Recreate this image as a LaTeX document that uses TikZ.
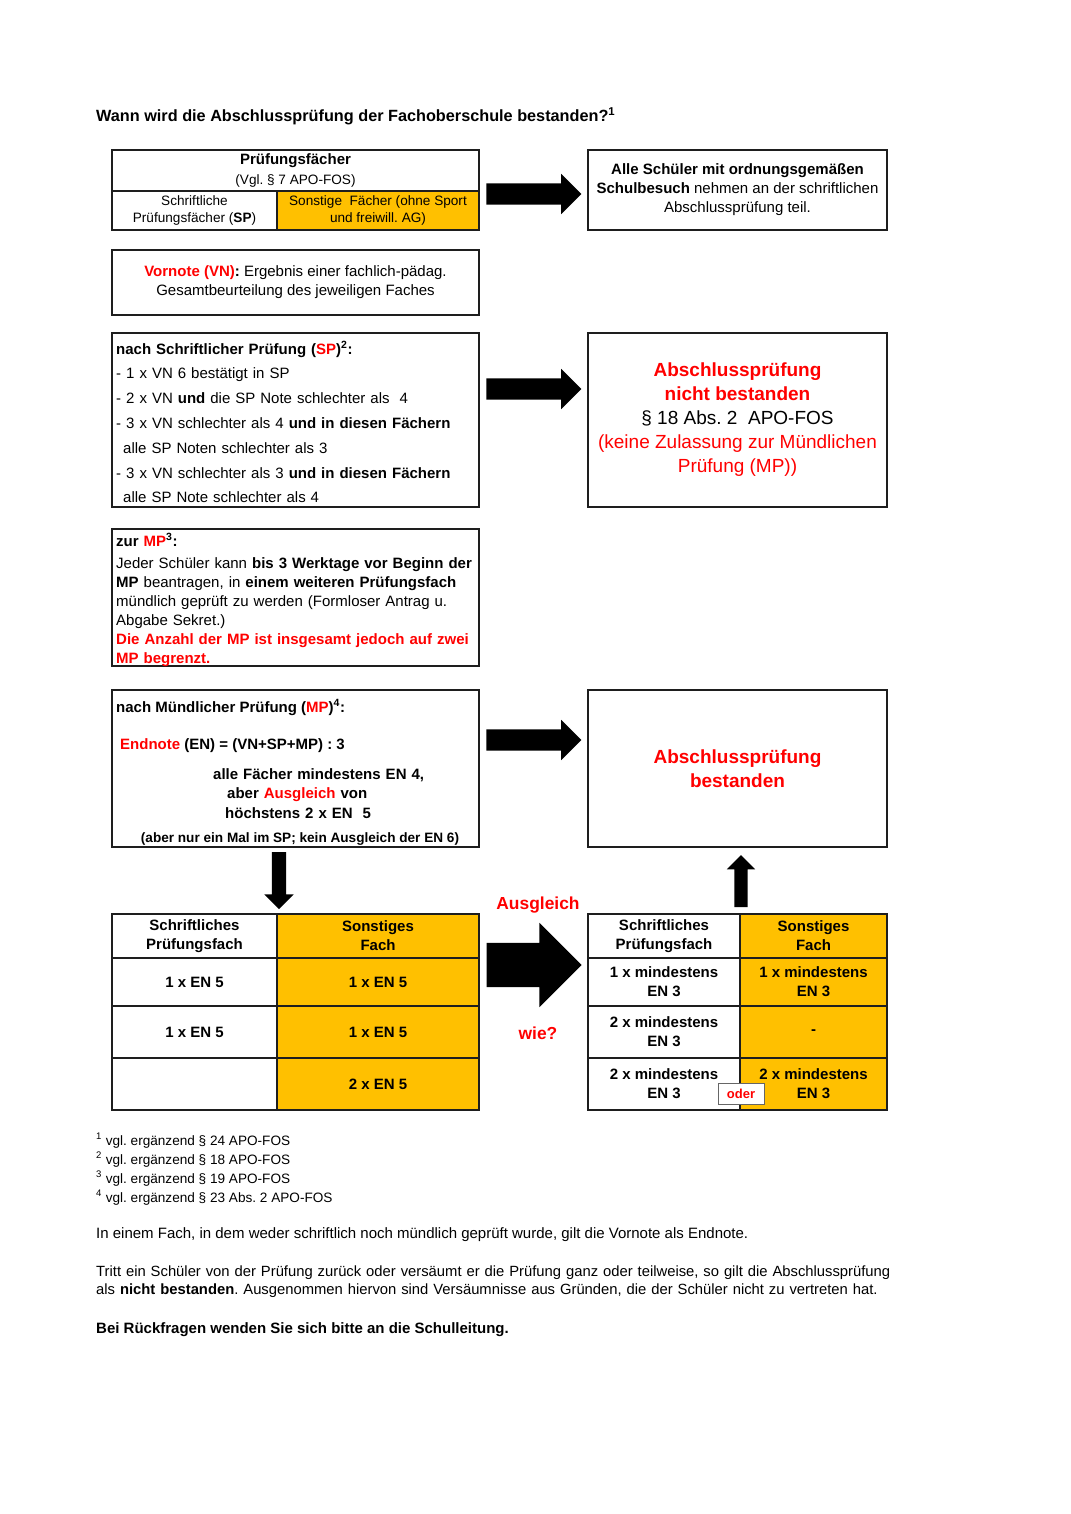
\documentclass[tikz,border=0pt]{standalone}
\usepackage{fontspec}
\setmainfont{Liberation Sans}
\usetikzlibrary{positioning,calc,shapes.arrows}

\definecolor{rot}{RGB}{255,0,0}
\definecolor{gelb}{RGB}{255,192,0}
\definecolor{rand}{RGB}{30,30,30}

\newcommand{\grund}{\fontsize{15}{19}\selectfont}
\newcommand{\klein}{\fontsize{13.6}{17}\selectfont}
\newcommand{\gross}{\fontsize{19}{24}\selectfont}
\newcommand{\rt}[1]{\textcolor{rot}{#1}}

\begin{document}
\frenchspacing
\begin{tikzpicture}[
  x=1pt, y=-1pt,
  font=\grund,
  box/.style    ={rectangle, draw=rand, line width=1.5pt, anchor=north west,
                  inner sep=4pt, outer sep=0pt, align=center},
  zelle/.style  ={rectangle, draw=rand, line width=1.1pt, anchor=north west,
                  inner sep=2pt, outer sep=0pt, align=center},
  tab/.style    ={zelle, font=\grund\bfseries},
  rahmen/.style ={draw=rand, line width=1.5pt},
  pfeil/.style  ={single arrow, fill=black, inner xsep=0pt, outer sep=0pt,
                  single arrow tip angle=90},
  fussnote/.style={anchor=base west, inner sep=0pt, font=\klein},
  absatz/.style ={anchor=base west, inner sep=0pt, align=left},
]
\useasboundingbox (0,0) rectangle (1070,1514);
\fill[white] (0,0) rectangle (1070,1514);

% -------- title -----------------------------------------------------------
\node[anchor=base west, inner sep=0pt, font=\fontsize{16.25}{20}\selectfont\bfseries]
  (titel) at (96,122) {Wann wird die Abschlussprüfung der Fachoberschule bestanden?\textsuperscript{1}};

% -------- Prüfungsfächer --------------------------------------------------
\node[zelle, minimum width=367pt, minimum height=41pt] (pfkopf) at (112,150)
  {\textbf{Prüfungsfächer}\\[1pt]{\klein (Vgl. § 7 APO-FOS)}};
\node[zelle, font=\klein, minimum width=165pt, minimum height=39pt] (pfsp) at (pfkopf.south west)
  {Schriftliche\\Prüfungsfächer (\textbf{SP})};
\node[zelle, font=\klein, fill=gelb, minimum width=202pt, minimum height=39pt] (pfso) at (pfsp.north east)
  {Sonstige\ \ Fächer (ohne Sport\\und freiwill. AG)};
\draw[rahmen] (pfkopf.north west) rectangle (pfso.south east);

\node[box, minimum width=299pt, minimum height=80pt] (alle) at (588,150)
  {\textbf{Alle Schüler mit ordnungsgemäßen}\\\textbf{Schulbesuch} nehmen an der schriftlichen\\Abschlussprüfung teil.};

% -------- Vornote ---------------------------------------------------------
\node[box, minimum width=367pt, minimum height=65pt] (vn) at (112,250)
  {\rt{\textbf{Vornote (VN)}}\textbf{:} Ergebnis einer fachlich-pädag.\\Gesamtbeurteilung des jeweiligen Faches};

% -------- schriftliche Prüfung --------------------------------------------
\node[box, minimum width=367pt, minimum height=174pt] (sp) at (112,333) {};
\node[absatz, text width=359pt, font=\fontsize{15}{24.8}\selectfont] (sptext) at ($(sp.north west)+(4,21)$)
  {\textbf{nach Schriftlicher Prüfung (\rt{SP})\textsuperscript{2}:}\\
   - 1 x VN 6 bestätigt in SP\\
   - 2 x VN \textbf{und} die SP Note schlechter als\ \ 4\\
   - 3 x VN schlechter als 4 \textbf{und in diesen Fächern}\\
   \hspace*{7pt}alle SP Noten schlechter als 3\\
   - 3 x VN schlechter als 3 \textbf{und in diesen Fächern}\\
   \hspace*{7pt}alle SP Note schlechter als 4};

\node[box, font=\gross, minimum width=299pt, minimum height=174pt] (nb) at (588,333)
  {\rt{\textbf{Abschlussprüfung}}\\\rt{\textbf{nicht bestanden}}\\§ 18 Abs. 2\ \ APO-FOS\\
   \rt{(keine Zulassung zur Mündlichen}\\\rt{Prüfung (MP))}};

% -------- zur MP ----------------------------------------------------------
\node[box, minimum width=367pt, minimum height=137pt] (mp) at (112,529) {};
\node[absatz, text width=359pt] (mptext) at ($(mp.north west)+(4,17)$)
  {\textbf{zur \rt{MP}\textsuperscript{3}:}\\[3pt]
   Jeder Schüler kann \textbf{bis 3 Werktage vor Beginn der}\\
   \textbf{MP} beantragen, in \textbf{einem weiteren Prüfungsfach}\\
   mündlich geprüft zu werden (Formloser Antrag u.\\
   Abgabe Sekret.)\\
   \rt{\textbf{Die Anzahl der MP ist insgesamt jedoch auf zwei}}\\
   \rt{\textbf{MP begrenzt.}}};

% -------- mündliche Prüfung -----------------------------------------------
\node[box, minimum width=367pt, minimum height=157pt] (mue) at (112,690) {};
\node[anchor=base west, inner sep=0pt, font=\grund\bfseries] (muekopf) at ($(mue.north west)+(4,22)$)
  {nach Mündlicher Prüfung (\rt{MP})\textsuperscript{4}:};
\node[anchor=base west, inner sep=0pt, font=\grund\bfseries] (endnote) at ($(mue.north west)+(8,59)$)
  {\rt{Endnote} (EN) = (VN+SP+MP) : 3};
\node[absatz, text width=250pt, font=\fontsize{15}{19.5}\selectfont\bfseries] (regel) at ($(mue.north west)+(101,89)$)
  {alle Fächer mindestens EN 4,\\
   \hspace*{14pt}aber \rt{Ausgleich} von\\
   \hspace*{12pt}höchstens 2 x EN\ \ 5};
\node[anchor=base, inner sep=0pt, font=\klein\bfseries] (einmal) at ($(mue.south)+(4.5,-5)$)
  {(aber nur ein Mal im SP; kein Ausgleich der EN 6)};

\node[box, font=\gross\bfseries, text=rot, minimum width=299pt, minimum height=157pt] (best) at (588,690)
  {Abschlussprüfung\\bestanden};

% -------- Ausgleich tables ------------------------------------------------
\foreach \z/\y/\h/\tl/\tr in {0/914/44/{Schriftliches\\Prüfungsfach}/{Sonstiges\\Fach},
                               1/958/48/{1 x EN 5}/{1 x EN 5},
                               2/1006/52/{1 x EN 5}/{1 x EN 5},
                               3/1058/52/{}/{2 x EN 5}} {
  \node[tab, minimum width=165pt, minimum height=\h] (la\z) at (112,\y) {\tl};
  \node[tab, fill=gelb, minimum width=202pt, minimum height=\h] (lb\z) at (277,\y) {\tr};
}
\draw[rahmen] (la0.north west) rectangle (lb3.south east);

\foreach \z/\y/\h/\tl/\tr in {0/914/44/{Schriftliches\\Prüfungsfach}/{Sonstiges\\Fach},
                               1/958/48/{1 x mindestens\\EN 3}/{1 x mindestens\\EN 3},
                               2/1006/52/{2 x mindestens\\EN 3}/{-},
                               3/1058/52/{2 x mindestens\\EN 3}/{2 x mindestens\\EN 3}} {
  \node[tab, minimum width=152pt, minimum height=\h] (ra\z) at (588,\y) {\tl};
  \node[tab, fill=gelb, minimum width=147pt, minimum height=\h] (rb\z) at (740,\y) {\tr};
}
\draw[rahmen] (ra0.north west) rectangle (rb3.south east);

\node[draw=black!60, line width=0.6pt, fill=white, text=rot, inner sep=0pt,
      font=\fontsize{13}{15}\selectfont\bfseries, minimum width=46pt, minimum height=21pt]
  (oder) at ($(ra3.south east)+(1,-16.5)$) {oder};

% -------- arrows ----------------------------------------------------------
\foreach \name/\y in {p1/194, p2/389, p3/740}
  \node[pfeil, minimum height=95pt, inner ysep=10.5pt, single arrow head extend=9.5pt] (\name) at (528.5,\y) {};
\node[pfeil, minimum height=95pt, inner ysep=22pt, single arrow head extend=20pt] (p4) at (523,965) {};
\node[pfeil, rotate=-90, minimum height=57pt, inner ysep=7pt, single arrow head extend=7.5pt] (p5) at (279,877) {};
\node[pfeil, rotate=90, minimum height=52pt, inner ysep=6.5pt, single arrow head extend=7.5pt] (p6) at (741,884.5) {};

\node[above=29pt of p4, xshift=15pt, inner sep=0pt, text=rot, font=\fontsize{17.4}{20}\selectfont\bfseries] (ausgleich) {Ausgleich};
\node[below=39pt of p4, xshift=15pt, inner sep=0pt, text=rot, font=\fontsize{17.4}{20}\selectfont\bfseries] (wie) {wie?};

% -------- footnotes and notes ---------------------------------------------
\foreach \n/\txt in {1/{24 APO-FOS}, 2/{18 APO-FOS}, 3/{19 APO-FOS}, 4/{23 Abs. 2 APO-FOS}}
  \node[fussnote] (fn\n) at (96,1126+19*\n) {\textsuperscript{\n} vgl. ergänzend § \txt};

\node[absatz] (satz1) at (96,1238.5)
  {In einem Fach, in dem weder schriftlich noch mündlich geprüft wurde, gilt die Vornote als Endnote.};
\node[absatz, text width=840pt, font=\fontsize{14.8}{18}\selectfont] (satz2) at (96,1276)
  {Tritt ein Schüler von der Prüfung zurück oder versäumt er die Prüfung ganz oder teilweise, so gilt die Abschlussprüfung\\
   als \textbf{nicht bestanden}. Ausgenommen hiervon sind Versäumnisse aus Gründen, die der Schüler nicht zu vertreten hat.};
\node[absatz, font=\grund\bfseries] (satz3) at (96,1333)
  {Bei Rückfragen wenden Sie sich bitte an die Schulleitung.};

\end{tikzpicture}
\end{document}
